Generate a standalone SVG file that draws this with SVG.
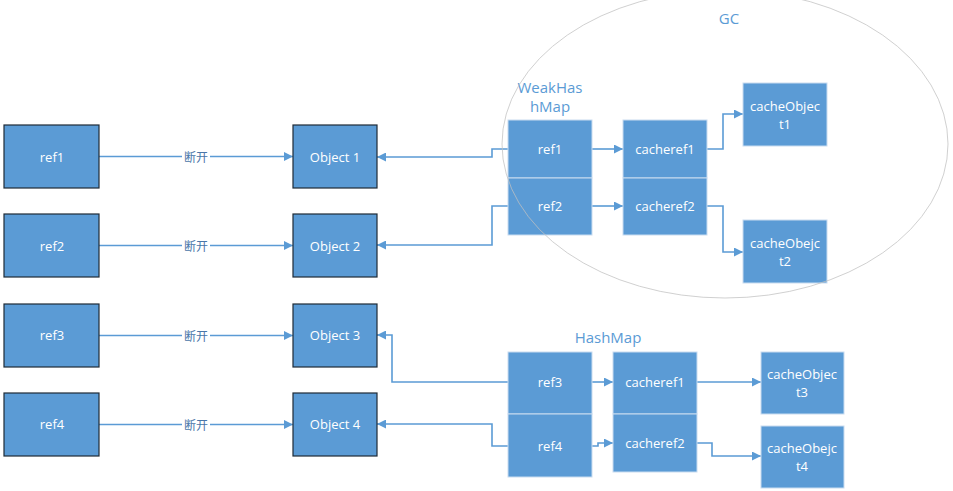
<svg xmlns="http://www.w3.org/2000/svg" width="953" height="491" viewBox="0 0 953 491">
<defs>
<marker id="ah" viewBox="0 0 10 10" refX="10" refY="5" markerWidth="9" markerHeight="9" markerUnits="userSpaceOnUse" orient="auto">
<path d="M0,0 L10,5 L0,10 z" fill="#5b9bd5"/>
</marker>
<style>
.dk{fill:#5b9bd5;stroke:#1e2a36;stroke-width:1.2}
.lt{fill:#5b9bd5;stroke:#c9dcf0;stroke-width:1}
.t{font-family:"Open Sans","Liberation Sans",sans-serif;font-size:13px;fill:#ffffff;text-anchor:middle;dominant-baseline:central}
.lbl{font-family:"Open Sans","Liberation Sans",sans-serif;font-size:15px;fill:#5b9bd5;text-anchor:middle;dominant-baseline:central}
.cut{font-family:"Noto Sans CJK SC",sans-serif;font-size:12px;fill:#4a76a8;text-anchor:middle;dominant-baseline:central}
.c{fill:none;stroke:#5b9bd5;stroke-width:1.6;marker-end:url(#ah)}
</style>
</defs>
<rect width="953" height="491" fill="#ffffff"/>
<g id="labels">
<text class="lbl" x="729" y="18">GC</text>
<text class="lbl" x="550" y="87">WeakHas</text>
<text class="lbl" x="550" y="106">hMap</text>
<text class="lbl" x="608" y="337">HashMap</text>
</g>
<g id="connectors">
<path class="c" d="M99,156.5 H293"/>
<path class="c" d="M99,245.5 H293"/>
<path class="c" d="M99,335.5 H293"/>
<path class="c" d="M99,424.5 H293"/>
<path class="c" d="M508,149 H492 V157 H377"/>
<path class="c" d="M508,206 H492 V245 H377"/>
<path class="c" d="M508,382 H392 V335 H377"/>
<path class="c" d="M508,446 H492 V424 H377"/>
<path class="c" d="M592,149 H623"/>
<path class="c" d="M592,206 H623"/>
<path class="c" d="M707,149 H723 V114 H743"/>
<path class="c" d="M707,206 H723 V252 H743"/>
<path class="c" d="M592,382 H613"/>
<path class="c" d="M592,446 H598 V443 H613"/>
<path class="c" d="M697,382 H761"/>
<path class="c" d="M697,443 H712 V456 H761"/>
<g>
<rect x="182" y="149" width="28" height="14" fill="#ffffff"/>
<text class="cut" x="196" y="156">断开</text>
<rect x="182" y="238" width="28" height="14" fill="#ffffff"/>
<text class="cut" x="196" y="245">断开</text>
<rect x="182" y="328" width="28" height="14" fill="#ffffff"/>
<text class="cut" x="196" y="335">断开</text>
<rect x="182" y="417" width="28" height="14" fill="#ffffff"/>
<text class="cut" x="196" y="424">断开</text>
</g>
</g>
<g id="n-ref1"><rect class="dk" x="4" y="125" width="95" height="63"/><text class="t" x="52" y="157">ref1</text></g>
<g id="n-ref2"><rect class="dk" x="4" y="214" width="95" height="63"/><text class="t" x="52" y="246">ref2</text></g>
<g id="n-ref3"><rect class="dk" x="4" y="304" width="95" height="63"/><text class="t" x="52" y="335">ref3</text></g>
<g id="n-ref4"><rect class="dk" x="4" y="393" width="95" height="63"/><text class="t" x="52" y="424">ref4</text></g>
<g id="n-obj1"><rect class="dk" x="293" y="125" width="84" height="63"/><text class="t" x="335" y="157">Object 1</text></g>
<g id="n-obj2"><rect class="dk" x="293" y="214" width="84" height="63"/><text class="t" x="335" y="246">Object 2</text></g>
<g id="n-obj3"><rect class="dk" x="293" y="304" width="84" height="63"/><text class="t" x="335" y="335">Object 3</text></g>
<g id="n-obj4"><rect class="dk" x="293" y="393" width="84" height="63"/><text class="t" x="335" y="424">Object 4</text></g>
<g id="n-wref1"><rect class="lt" x="508" y="120" width="84" height="58"/><text class="t" x="550" y="149">ref1</text></g>
<g id="n-wref2"><rect class="lt" x="508" y="178" width="84" height="57"/><text class="t" x="550" y="206">ref2</text></g>
<g id="n-wcache1"><rect class="lt" x="623" y="120" width="84" height="58"/><text class="t" x="665" y="149">cacheref1</text></g>
<g id="n-wcache2"><rect class="lt" x="623" y="178" width="84" height="57"/><text class="t" x="665" y="206">cacheref2</text></g>
<g id="n-cobj1"><rect class="lt" x="743" y="83" width="84" height="63"/><text class="t" x="785" y="106">cacheObjec</text><text class="t" x="785" y="124">t1</text></g>
<g id="n-cobj2"><rect class="lt" x="743" y="220" width="84" height="63"/><text class="t" x="785" y="243">cacheObejc</text><text class="t" x="785" y="261">t2</text></g>
<g id="n-href3"><rect class="lt" x="508" y="352" width="84" height="62"/><text class="t" x="550" y="382">ref3</text></g>
<g id="n-href4"><rect class="lt" x="508" y="414" width="84" height="63"/><text class="t" x="550" y="446">ref4</text></g>
<g id="n-hcache1"><rect class="lt" x="613" y="352" width="84" height="62"/><text class="t" x="655" y="382">cacheref1</text></g>
<g id="n-hcache2"><rect class="lt" x="613" y="414" width="84" height="58"/><text class="t" x="655" y="443">cacheref2</text></g>
<g id="n-cobj3"><rect class="lt" x="761" y="352" width="83" height="62"/><text class="t" x="802" y="374">cacheObjec</text><text class="t" x="802" y="392">t3</text></g>
<g id="n-cobj4"><rect class="lt" x="761" y="426" width="83" height="62"/><text class="t" x="802" y="448">cacheObejc</text><text class="t" x="802" y="466">t4</text></g>
<g id="gc">
<ellipse cx="725" cy="144" rx="223" ry="154" fill="none" stroke="#c0c0c0" stroke-opacity="0.75" stroke-width="1"/>
</g>
</svg>
